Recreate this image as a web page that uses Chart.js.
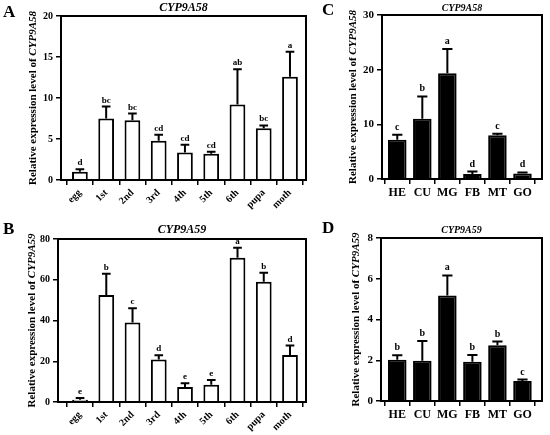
<!DOCTYPE html>
<html>
<head>
<meta charset="utf-8">
<script src="https://cdn.jsdelivr.net/npm/chart.js@4.4.1/dist/chart.umd.min.js"></script>
<style>
  body { margin: 0; background: #fff; }
  #wrap { position: relative; width: 550px; height: 435px; background: #fff; }
  canvas { position: absolute; }
</style>
</head>
<body>
<div id="wrap">
  <canvas id="chartA" width="320" height="215" style="left:0;top:0"></canvas>
  <canvas id="chartB" width="320" height="220" style="left:0;top:215px"></canvas>
  <canvas id="chartC" width="230" height="215" style="left:320px;top:0"></canvas>
  <canvas id="chartD" width="230" height="220" style="left:320px;top:215px"></canvas>
</div>
<script>
// categorias
const stages = ['egg', '1st', '2nd', '3rd', '4th', '5th', '6th', 'pupa', 'moth'];
const tissues = ['HE', 'CU', 'MG', 'FB', 'MT', 'GO'];

// A - CYP9A58 por estadio
const a58Mean = [1.0, 7.5, 7.3, 4.8, 3.35, 3.2, 9.2, 6.3, 12.6];
const a58Err  = [0.3, 1.45, 0.8, 0.72, 0.94, 0.25, 4.3, 0.36, 3.05];
const a58Sig  = ['d', 'bc', 'bc', 'cd', 'cd', 'cd', 'ab', 'bc', 'a'];

// B - CYP9A59 por estadio
const b59Mean = [1.1, 52.5, 39, 20.8, 7.4, 8.5, 70.8, 59, 23.1];
const b59Err  = [0.9, 10.5, 7, 2.2, 1.8, 2.3, 4.9, 4.4, 4.6];
const b59Sig  = ['e', 'b', 'c', 'd', 'e', 'e', 'a', 'b', 'd'];

// C - CYP9A58 por tejido
const c58Mean = [7.2, 11.0, 19.35, 0.9, 8.0, 1.0];
const c58Err  = [0.9, 4.1, 4.45, 0.45, 0.3, 0.2];
const c58Sig  = ['c', 'b', 'a', 'd', 'c', 'd'];

// D - CYP9A59 por tejido
const d59Mean = [2.03, 1.97, 5.18, 1.93, 2.74, 0.98];
const d59Err  = [0.22, 0.98, 0.98, 0.33, 0.18, 0.07];
const d59Sig  = ['b', 'b', 'a', 'b', 'b', 'c'];

const SERIF = "'Liberation Serif', 'DejaVu Serif', serif";

// dibuja marco, barras de error, letras, titulo y etiqueta del eje Y
const panelPlugin = {
  id: 'panel',
  afterDatasetsDraw(chart, args, opts) {
    const ctx = chart.ctx;
    const y = chart.scales.y;
    const meta = chart.getDatasetMeta(0);
    const means = opts.means;
    ctx.save();
    ctx.strokeStyle = '#000';
    ctx.fillStyle = '#000';
    ctx.lineWidth = 2;
    meta.data.forEach(function(bar, i) {
      const yTop = y.getPixelForValue(means[i] + opts.errors[i]);
      const cap = bar.width * 0.55;
      ctx.beginPath();
      ctx.moveTo(bar.x, bar.y);
      ctx.lineTo(bar.x, yTop);
      ctx.moveTo(bar.x - cap / 2, yTop);
      ctx.lineTo(bar.x + cap / 2, yTop);
      ctx.stroke();
      ctx.font = 'bold ' + opts.sigSize + 'px ' + SERIF;
      ctx.textAlign = 'center';
      ctx.textBaseline = 'alphabetic';
      ctx.fillText(opts.sig[i], bar.x, yTop - opts.sigGap);
    });
    ctx.restore();
  },
  afterDraw(chart, args, opts) {
    const ctx = chart.ctx;
    const a = chart.chartArea;
    ctx.save();
    ctx.strokeStyle = '#000';
    ctx.lineWidth = 2;
    ctx.strokeRect(a.left, a.top, a.right - a.left, a.bottom - a.top);

    // titulo del gen
    ctx.fillStyle = '#000';
    ctx.font = 'italic bold ' + opts.titleSize + 'px ' + SERIF;
    ctx.textAlign = 'center';
    ctx.textBaseline = 'middle';
    ctx.fillText(opts.gene, (a.left + a.right) / 2, opts.titleY);

    // letra del panel
    ctx.font = 'bold 17px ' + SERIF;
    ctx.textAlign = 'left';
    ctx.fillText(opts.letter, opts.letterX, opts.letterY);

    // etiqueta del eje Y con el gen en cursiva
    const p1 = 'Relative expression level of ';
    const f1 = 'bold ' + opts.ySize + 'px ' + SERIF;
    const f2 = 'italic bold ' + opts.ySize + 'px ' + SERIF;
    ctx.font = f1;
    const w1 = ctx.measureText(p1).width;
    ctx.font = f2;
    const w2 = ctx.measureText(opts.gene).width;
    ctx.translate(opts.yTitleX, (a.top + a.bottom) / 2);
    ctx.rotate(-Math.PI / 2);
    ctx.textBaseline = 'middle';
    ctx.font = f1;
    ctx.fillText(p1, -(w1 + w2) / 2, 0);
    ctx.font = f2;
    ctx.fillText(opts.gene, -(w1 + w2) / 2 + w1, 0);
    ctx.restore();
  }
};

function makePanel(id, labels, means, errs, sig, cfg) {
  const points = means.map(function(v, i) { return { x: i, y: v }; });
  return new Chart(document.getElementById(id), {
    type: 'bar',
    data: {
      datasets: [{
        data: points,
        backgroundColor: cfg.fill,
        borderColor: '#000',
        borderWidth: 2,
        borderSkipped: 'bottom',
        barPercentage: cfg.barPct,
        categoryPercentage: 1
      }]
    },
    options: {
      responsive: false,
      animation: false,
      layout: { padding: { left: 0, right: cfg.padRight, top: cfg.padTop, bottom: 0 } },
      plugins: {
        legend: { display: false },
        tooltip: { enabled: false },
        panel: {
          letter: cfg.letter, letterX: cfg.letterX, letterY: cfg.letterY,
          gene: cfg.gene, titleSize: cfg.titleSize, titleY: cfg.titleY,
          ySize: cfg.ySize, yTitleX: cfg.yTitleX,
          means: means, errors: errs, sig: sig, sigSize: cfg.sigSize, sigGap: cfg.sigGap
        }
      },
      scales: {
        x: {
          type: 'linear',
          offset: false,
          min: cfg.xMin, max: cfg.xMax,
          afterFit: function(s) { s.height = cfg.xHeight; },
          afterBuildTicks: function(s) {
            s.ticks = labels.map(function(l, i) { return { value: i }; });
          },
          grid: { drawOnChartArea: false, drawTicks: true, tickLength: 5, color: '#000', lineWidth: 1.5 },
          border: { display: true, color: '#000', width: 2 },
          ticks: {
            color: '#000',
            autoSkip: false,
            font: { family: SERIF, size: cfg.xSize, weight: 'bold' },
            maxRotation: cfg.rot, minRotation: cfg.rot,
            padding: 2,
            callback: function(v) { return labels[v]; }
          }
        },
        y: {
          min: 0, max: cfg.yMax,
          afterFit: function(s) { s.width = cfg.yWidth; },
          grid: { drawOnChartArea: false, drawTicks: true, tickLength: 5, color: '#000', lineWidth: 1.5 },
          border: { display: true, color: '#000', width: 2 },
          ticks: {
            stepSize: cfg.yStep,
            color: '#000',
            font: { family: SERIF, size: cfg.yTickSize, weight: 'bold' },
            padding: 3
          }
        }
      }
    },
    plugins: [panelPlugin]
  });
}

makePanel('chartA', stages, a58Mean, a58Err, a58Sig, {
  fill: '#fff', barPct: 0.6, letter: 'A', letterX: 3, letterY: 13,
  gene: 'CYP9A58', titleSize: 12, titleY: 8, ySize: 11, yTitleX: 33,
  sigSize: 9, sigGap: 4, padRight: 14, padTop: 16, xHeight: 35,
  xSize: 10, rot: 45, yMax: 20, yStep: 5, yWidth: 61, yTickSize: 10,
  xMin: -0.72, xMax: 8.61
});

makePanel('chartB', stages, b59Mean, b59Err, b59Sig, {
  fill: '#fff', barPct: 0.6, letter: 'B', letterX: 3, letterY: 15,
  gene: 'CYP9A59', titleSize: 12, titleY: 15, ySize: 11, yTitleX: 32,
  sigSize: 9, sigGap: 4, padRight: 14, padTop: 24, xHeight: 33,
  xSize: 10, rot: 45, yMax: 80, yStep: 20, yWidth: 58, yTickSize: 10,
  xMin: -0.84, xMax: 8.61
});

makePanel('chartC', tissues, c58Mean, c58Err, c58Sig, {
  fill: '#000', barPct: 0.74, letter: 'C', letterX: 2, letterY: 11,
  gene: 'CYP9A58', titleSize: 10, titleY: 8, ySize: 11, yTitleX: 33,
  sigSize: 10, sigGap: 5, padRight: 8, padTop: 15, xHeight: 36,
  xSize: 12, rot: 0, yMax: 30, yStep: 10, yWidth: 62, yTickSize: 11,
  xMin: -0.61, xMax: 5.78
});

makePanel('chartD', tissues, d59Mean, d59Err, d59Sig, {
  fill: '#000', barPct: 0.74, letter: 'D', letterX: 2, letterY: 14,
  gene: 'CYP9A59', titleSize: 10, titleY: 15, ySize: 11, yTitleX: 36,
  sigSize: 10, sigGap: 5, padRight: 8, padTop: 23, xHeight: 34,
  xSize: 12, rot: 0, yMax: 8, yStep: 2, yWidth: 61, yTickSize: 11,
  xMin: -0.65, xMax: 5.78
});
</script>
</body>
</html>
